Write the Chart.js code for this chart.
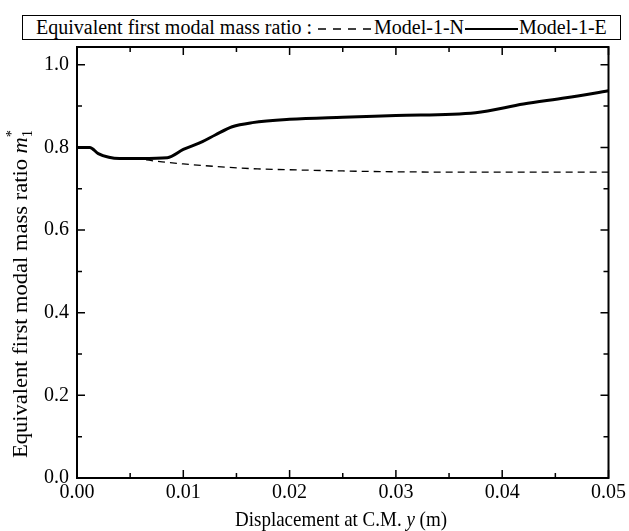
<!DOCTYPE html>
<html>
<head>
<meta charset="utf-8">
<script src="https://cdn.jsdelivr.net/npm/chart.js@4"></script>
<style>
    body { margin: 0; background: #fff; }
    #wrap { position: relative; width: 629px; height: 531px; }
    #legendBox {
        position: absolute; left: 22px; top: 15px; width: 584px; height: 23px;
        border: 1.5px solid #000; background: #fff;
        font: 20px "Liberation Serif", "Times New Roman", serif;
        line-height: 23px; white-space: nowrap; padding-left: 13px;
    }
    #legendBox svg { vertical-align: middle; }
</style>
</head>
<body>
<div id="wrap">
    <canvas id="chart" width="629" height="531"></canvas>
    <div id="legendBox">Equivalent first modal mass ratio :<svg width="62" height="10"><line x1="6" y1="5" x2="59" y2="5" stroke="#000" stroke-width="1.3" stroke-dasharray="8,7"/></svg>Model-1-N<svg width="55" height="10"><line x1="1" y1="5" x2="54" y2="5" stroke="#000" stroke-width="2"/></svg>Model-1-E</div>
</div>
<script>
// Data
const modelE_x = [0, 0.0012, 0.002, 0.003, 0.004, 0.006, 0.0085, 0.010, 0.0118, 0.013, 0.0146, 0.0165, 0.020, 0.025, 0.030, 0.0375, 0.042, 0.046, 0.050];
const modelE_y = [0.80, 0.80, 0.785, 0.776, 0.773, 0.773, 0.775, 0.795, 0.814, 0.830, 0.850, 0.860, 0.868, 0.873, 0.877, 0.884, 0.905, 0.920, 0.937];
const modelN_x = [0, 0.0012, 0.002, 0.003, 0.004, 0.006, 0.008, 0.010, 0.013, 0.017, 0.020, 0.025, 0.030, 0.040, 0.050];
const modelN_y = [0.80, 0.80, 0.785, 0.776, 0.773, 0.771, 0.765, 0.760, 0.754, 0.748, 0.746, 0.743, 0.741, 0.740, 0.740];

const xTicks = [0, 0.01, 0.02, 0.03, 0.04, 0.05];
const xMinorTicks = [0.005, 0.015, 0.025, 0.035, 0.045];
const yTicks = [0, 0.2, 0.4, 0.6, 0.8, 1.0];
const yMinorTicks = [0.1, 0.3, 0.5, 0.7, 0.9];

const FONT = '"Liberation Serif", "Times New Roman", serif';

function toPoints(xs, ys) {
    return xs.map((x, i) => ({ x: x, y: ys[i] }));
}

// draw a run of [text, font, dy, advance] parts centred at 0, squeezed to a given width
function drawParts(ctx, parts, targetWidth) {
    let w = 0;
    parts.forEach(p => { ctx.font = p[1]; w += p[3] === false ? 0 : ctx.measureText(p[0]).width; });
    ctx.scale(targetWidth / w, 1);
    let cx = -w / 2;
    parts.forEach(p => {
        ctx.font = p[1];
        ctx.fillText(p[0], cx, p[2] || 0);
        if (p[3] !== false) cx += ctx.measureText(p[0]).width;
    });
}

// frame + inward ticks on all four sides, plus the axis titles
const frameTicks = {
    id: 'frameTicks',
    afterDraw(chart) {
        const { ctx, chartArea: a, scales: { x, y } } = chart;
        ctx.save();
        ctx.strokeStyle = '#000';
        ctx.lineWidth = 2;
        ctx.strokeRect(a.left, a.top, a.right - a.left, a.bottom - a.top);
        ctx.lineWidth = 1.5;
        ctx.beginPath();
        const xt = (v, len) => {
            const px = x.getPixelForValue(v);
            ctx.moveTo(px, a.bottom); ctx.lineTo(px, a.bottom - len);
            ctx.moveTo(px, a.top); ctx.lineTo(px, a.top + len);
        };
        const yt = (v, len) => {
            const py = y.getPixelForValue(v);
            ctx.moveTo(a.left, py); ctx.lineTo(a.left + len, py);
            ctx.moveTo(a.right, py); ctx.lineTo(a.right - len, py);
        };
        xTicks.forEach(v => xt(v, 8));
        xMinorTicks.forEach(v => xt(v, 5));
        yTicks.forEach(v => yt(v, 8));
        yMinorTicks.forEach(v => yt(v, 5));
        ctx.stroke();

        ctx.fillStyle = '#000';
        ctx.textBaseline = 'alphabetic';
        ctx.save();
        ctx.translate(341, 526);
        drawParts(ctx, [
            ['Displacement at C.M. ', 'normal 21px ' + FONT],
            ['y', 'italic 21px ' + FONT],
            [' (m)', 'normal 21px ' + FONT]
        ], 212);
        ctx.restore();

        ctx.save();
        ctx.translate(27, 294);
        ctx.rotate(-Math.PI / 2);
        drawParts(ctx, [
            ['Equivalent first modal mass ratio ', 'normal 22px ' + FONT],
            ['m', 'italic 22px ' + FONT],
            ['*', 'normal 14px ' + FONT, -11, false],
            ['1', 'normal 14px ' + FONT, 5]
        ], 328);
        ctx.restore();
        ctx.restore();
    }
};

new Chart(document.getElementById('chart'), {
    type: 'line',
    data: {
        datasets: [{
            label: 'Model-1-E',
            data: toPoints(modelE_x, modelE_y),
            borderColor: '#000',
            borderWidth: 3,
            pointRadius: 0,
            cubicInterpolationMode: 'monotone'
        }, {
            label: 'Model-1-N',
            data: toPoints(modelN_x, modelN_y),
            borderColor: '#000',
            borderWidth: 1.3,
            borderDash: [7, 5],
            pointRadius: 0,
            cubicInterpolationMode: 'monotone'
        }]
    },
    options: {
        responsive: false,
        animation: false,
        layout: { padding: { top: 47, right: 18, left: 0, bottom: 0 } },
        plugins: {
            legend: { display: false },
            tooltip: { enabled: false }
        },
        scales: {
            x: {
                type: 'linear',
                min: 0,
                max: 0.05,
                afterBuildTicks: s => { s.ticks = xTicks.map(v => ({ value: v })); },
                afterFit: s => { s.height = 53; },
                grid: { display: false, drawTicks: false },
                border: { display: false },
                ticks: {
                    color: '#000',
                    padding: 3,
                    maxRotation: 0,
                    font: { family: FONT, size: 20 },
                    callback: v => v.toFixed(2)
                }
            },
            y: {
                min: 0,
                max: 1.043,
                afterBuildTicks: s => { s.ticks = yTicks.map(v => ({ value: v })); },
                afterFit: s => { s.width = 77; },
                grid: { display: false, drawTicks: false },
                border: { display: false },
                ticks: {
                    color: '#000',
                    padding: 8,
                    font: { family: FONT, size: 20 },
                    callback: v => v.toFixed(1)
                }
            }
        }
    },
    plugins: [frameTicks]
});
</script>
</body>
</html>
